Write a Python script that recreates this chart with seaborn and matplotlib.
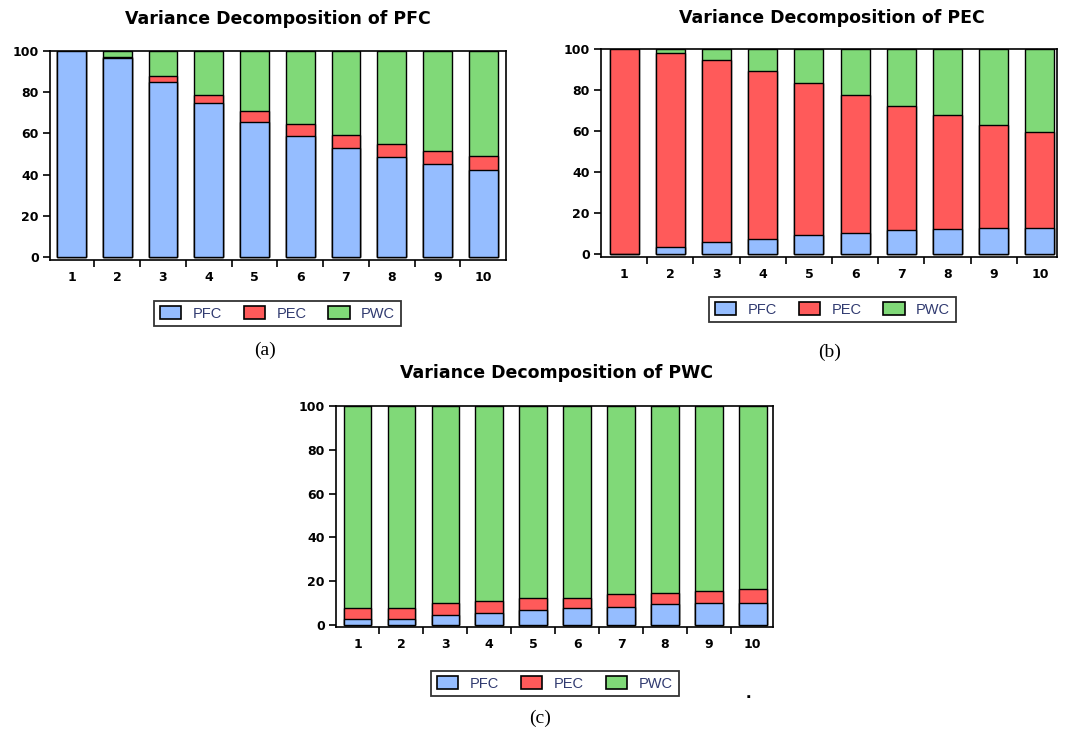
import matplotlib
matplotlib.use("Agg")
import matplotlib.pyplot as plt
from matplotlib.patches import Patch
from matplotlib.ticker import FixedLocator
import seaborn as sns
import pandas as pd
import numpy as np

sns.set_theme(style="white")
plt.rcParams['font.family'] = ['DejaVu Sans']
plt.rcParams['text.color'] = 'black'

horizons = ["1", "2", "3", "4", "5", "6", "7", "8", "9", "10"]
series_names = ["PFC", "PEC", "PWC"]

# Variance decomposition of PFC
a_pfc = [100.0, 96.8, 85.1, 74.6, 65.4, 58.5, 52.8, 48.5, 45.1, 42.0]
a_pec = [0.0, 0.4, 2.9, 3.8, 5.4, 6.0, 6.2, 6.3, 6.4, 6.8]
# Variance decomposition of PEC
b_pfc = [0.0, 3.2, 5.9, 7.3, 9.1, 10.1, 11.7, 12.0, 12.7, 12.8]
b_pec = [100.0, 94.8, 88.6, 82.0, 74.2, 67.3, 60.7, 55.6, 50.1, 46.9]
# Variance decomposition of PWC
c_pfc = [2.7, 2.7, 4.6, 5.6, 6.9, 7.9, 8.4, 9.5, 9.8, 10.2]
c_pec = [4.9, 5.1, 5.2, 5.5, 5.4, 4.6, 5.6, 5.0, 5.6, 6.0]

titles = ["Variance Decomposition of PFC", "Variance Decomposition of PEC",
          "Variance Decomposition of PWC"]
captions = ["(a)", "(b)", "(c)"]

colors = {"PFC": "#95BDFF", "PEC": "#FF5A5A", "PWC": "#80D978"}

W, H = 1070, 735
fig = plt.figure(figsize=(W / 100, H / 100), dpi=100)
fig.patch.set_facecolor("white")

# axes rectangles (pixels: left, top, right, bottom)
rects = [(50, 51, 506, 260), (601, 49, 1057, 256.7), (336, 406, 773, 626.7)]
xlims = [(-0.47, 9.5), (-0.5, 9.37), (-0.49, 9.46)]
ylims = [(-1.5, 100), (-1.3, 100), (-0.8, 100)]
title_pos = [(278, 19), (832, 18), (556, 373)]
legend_pos = [(277.5, 313.5), (832.5, 309.5), (555, 683.5)]
caption_pos = [(265, 350), (830, 352), (540, 718)]

datasets = [(a_pfc, a_pec), (b_pfc, b_pec), (c_pfc, c_pec)]

for i, (pfc, pec) in enumerate(datasets):
    l, t, r, b = rects[i]
    ax = fig.add_axes([l / W, 1 - b / H, (r - l) / W, (b - t) / H])
    pfc = np.array(pfc)
    pec = np.array(pec)
    layers = [("PWC", np.full(len(pfc), 100.0)), ("PEC", pfc + pec), ("PFC", pfc)]
    for name, vals in layers:
        df = pd.DataFrame({"horizon": horizons, "value": vals})
        sns.barplot(data=df, x="horizon", y="value", order=horizons,
                    color=colors[name], saturation=1, width=0.63,
                    edgecolor="black", linewidth=1.0, errorbar=None, ax=ax)
    ax.set_xlim(*xlims[i])
    ax.set_ylim(*ylims[i])
    ax.set_xlabel("")
    ax.set_ylabel("")
    for s in ax.spines.values():
        s.set_visible(True)
        s.set_color("black")
        s.set_linewidth(1.2)
    ax.set_yticks([0, 20, 40, 60, 80, 100])
    ax.set_yticklabels(["0", "20", "40", "60", "80", "100"],
                       fontweight="bold", fontsize=9)
    ax.tick_params(axis="y", direction="out", length=5, width=1.2, pad=3,
                   left=True, colors="black")
    ax.set_xticks(range(10))
    ax.set_xticklabels(horizons, fontweight="bold", fontsize=9)
    ax.tick_params(axis="x", which="major", length=0, pad=8, colors="black")
    ax.xaxis.set_minor_locator(FixedLocator(np.arange(0.5, 9.0, 1.0)))
    ax.tick_params(axis="x", which="minor", direction="out", length=5,
                   width=1.2, bottom=True, colors="black")
    ax.grid(False)

    tx, ty = title_pos[i]
    fig.text(tx / W, 1 - ty / H, titles[i], ha="center", va="center",
             fontsize=12.5, fontweight="bold", family="DejaVu Sans",
             color="black")

    handles = [Patch(facecolor=colors[n], edgecolor="black", linewidth=1.2)
               for n in series_names]
    lx, ly = legend_pos[i]
    leg = fig.legend(handles, series_names, loc="center",
                     bbox_to_anchor=(lx / W, 1 - ly / H), ncol=3,
                     prop={"family": "Liberation Sans", "size": 10.5},
                     frameon=True, fancybox=False, shadow=False,
                     edgecolor="black", handlelength=1.45, handleheight=0.9,
                     columnspacing=1.5, handletextpad=0.8, borderpad=0.4,
                     borderaxespad=0)
    leg.get_frame().set_linewidth(1.3)
    for txt in leg.get_texts():
        txt.set_color("#303a70")

    cx, cy = caption_pos[i]
    fig.text(cx / W, 1 - cy / H, captions[i], ha="center", va="center",
             fontsize=14, family="Liberation Serif", color="black")

fig.text(748 / W, 1 - 694 / H, ".", ha="center", va="center",
         fontsize=14, fontweight="bold", family="Liberation Sans",
         color="black")

fig.savefig("out.png", dpi=100, facecolor="white")
